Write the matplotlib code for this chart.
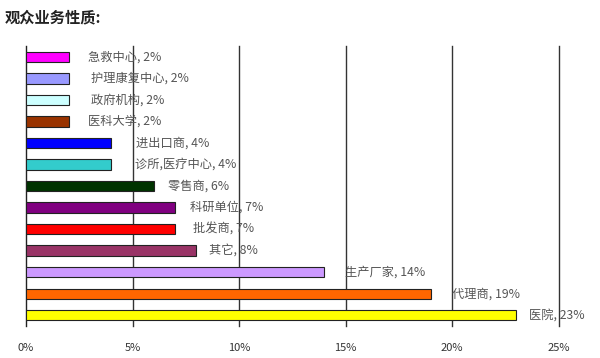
import matplotlib
matplotlib.use("Agg")
import matplotlib.pyplot as plt

plt.rcParams['font.family'] = ['Noto Sans CJK SC', 'DejaVu Sans']

# data, top to bottom
categories = ['急救中心', '护理康复中心', '政府机构', '医科大学', '进出口商', '诊所,医疗中心',
              '零售商', '科研单位', '批发商', '其它', '生产厂家', '代理商', '医院']
values = [2, 2, 2, 2, 4, 4, 6, 7, 7, 8, 14, 19, 23]
colors = ['#FF00FF', '#9999FF', '#CCFFFF', '#993300', '#0000FF', '#33CCCC',
          '#003300', '#800080', '#FF0000', '#993366', '#CC99FF', '#FF6600', '#FFFF00']
xticks = [0, 5, 10, 15, 20, 25]
xtick_labels = ['0%', '5%', '10%', '15%', '20%', '25%']

# label gap after each bar end (in points)
label_gap = [14, 16, 16, 14, 18, 17, 10, 11, 13, 9, 15, 15, 9]

fig = plt.figure(figsize=(6.0, 3.58), dpi=100)
ax = fig.add_axes([0.0433, 0.0894, 0.888, 0.782])

y = list(range(len(categories)))
ax.barh(y, values, height=0.48, color=colors, edgecolor='#222222', linewidth=0.8, zorder=3)

for i, (cat, v) in enumerate(zip(categories, values)):
    ax.annotate(f'{cat}, {v}%', xy=(v, i), xytext=(label_gap[i], 0),
                textcoords='offset points', va='center', ha='left',
                fontsize=8.8, color='#555555')

ax.set_ylim(len(categories) - 0.5, -0.5)
ax.set_xlim(0, 25)
ax.set_xticks(xticks)
ax.set_xticklabels(xtick_labels, fontsize=8, color='#333333')
ax.tick_params(axis='x', length=0, pad=12)
ax.set_yticks([])

for x in xticks[1:]:
    ax.axvline(x, color='#333333', linewidth=1.0, zorder=1, clip_on=False)

for s in ['top', 'right', 'bottom']:
    ax.spines[s].set_visible(False)
ax.spines['left'].set_color('#222222')
ax.spines['left'].set_linewidth(1.0)

fig.text(0.008, 0.95, '观众业务性质:', fontsize=11, fontweight='bold', color='#222222', va='center')

fig.savefig('out.png', dpi=100)
